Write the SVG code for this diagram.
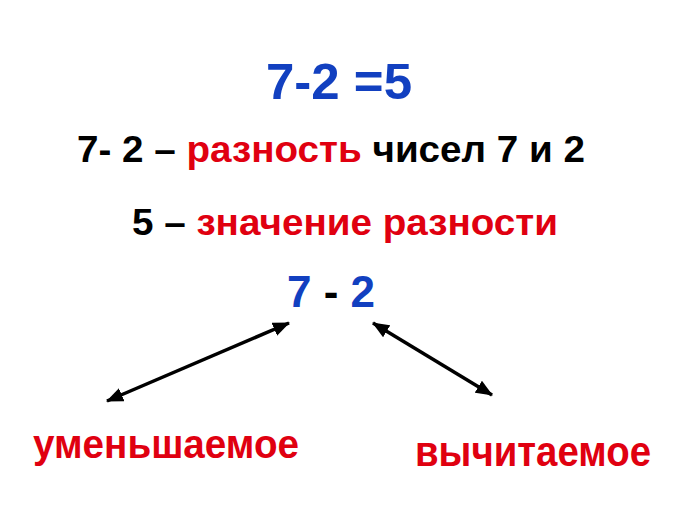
<svg xmlns="http://www.w3.org/2000/svg" width="700" height="525" viewBox="0 0 700 525">
<style>
text{font-family:"Liberation Sans",Arial,sans-serif;font-weight:bold}
.b{fill:#1240c0}.r{fill:#e00010}.k{fill:#000}
.arrow{stroke:#000;stroke-width:3.5;fill:none;marker-start:url(#ah);marker-end:url(#ah)}
</style>
<defs>
<marker id="ah" markerUnits="userSpaceOnUse" markerWidth="18" markerHeight="14" refX="16" refY="7" orient="auto-start-reverse">
<path d="M0,0 L17,7 L0,14 Z" fill="#000"/>
</marker>
</defs>
<rect width="700" height="525" fill="#fff"/>
<g id="equation"><text class="b" x="266" y="99" font-size="50" textLength="146" lengthAdjust="spacingAndGlyphs">7-2 =5</text></g>
<g id="definition"><text x="77" y="162" font-size="36" textLength="508" lengthAdjust="spacingAndGlyphs"><tspan class="k">7- 2 – </tspan><tspan class="r">разность</tspan><tspan class="k"> чисел 7 и 2</tspan></text></g>
<g id="value"><text x="132" y="235" font-size="37" textLength="426" lengthAdjust="spacingAndGlyphs"><tspan class="k">5 – </tspan><tspan class="r">значение разности</tspan></text></g>
<g id="expression"><text x="287" y="307" font-size="44"><tspan class="b">7</tspan><tspan class="k"> - </tspan><tspan class="b">2</tspan></text></g>
<g id="minuend"><text class="r" x="33" y="458" font-size="40" textLength="266" lengthAdjust="spacingAndGlyphs">уменьшаемое</text></g>
<g id="subtrahend"><text class="r" x="415" y="466" font-size="43" textLength="236" lengthAdjust="spacingAndGlyphs">вычитаемое</text></g>
<g id="connectors">
<line class="arrow" x1="289" y1="323" x2="107" y2="401"/>
<line class="arrow" x1="373" y1="323" x2="492" y2="395"/>
</g>
</svg>
